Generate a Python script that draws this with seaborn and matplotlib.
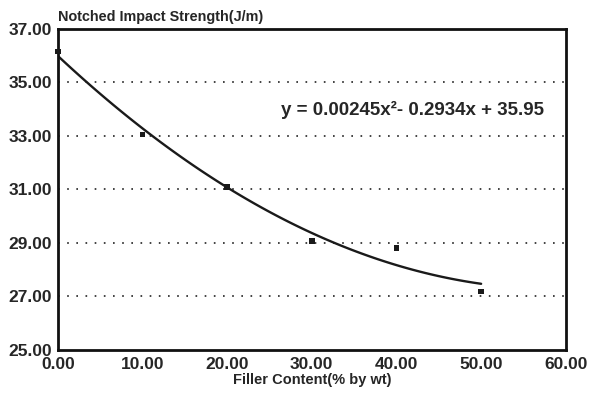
import numpy as np
import pandas as pd
import matplotlib
matplotlib.use("Agg")
import matplotlib.pyplot as plt
import seaborn as sns

# data
filler = [0, 10, 20, 30, 40, 50]
strength = [36.15, 33.05, 31.1, 29.08, 28.8, 27.18]
equation = "y = 0.00245x\u00b2- 0.2934x + 35.95"
x_ticks = [0, 10, 20, 30, 40, 50, 60]
y_ticks = [25, 27, 29, 31, 33, 35, 37]

df = pd.DataFrame({"filler": filler, "strength": strength})

sns.set_style("white")
plt.rcParams["font.family"] = ["Liberation Sans", "DejaVu Sans"]
plt.rcParams["font.weight"] = "bold"

fig = plt.figure(figsize=(5.9, 3.95), dpi=100)
ax = fig.add_axes([0.098, 0.114, 0.861, 0.813])

# second order trend line
sns.regplot(data=df, x="filler", y="strength", order=2, ci=None, scatter=False,
            line_kws={"color": "#1a1a1a", "lw": 1.7}, ax=ax)
pts = sns.scatterplot(data=df, x="filler", y="strength", marker="s", s=16,
                      color="#1a1a1a", edgecolor="none", ax=ax, zorder=4)
for c in ax.collections:
    c.set_clip_on(False)

for yv in y_ticks[1:-1]:
    ax.axhline(yv, color="#222222", lw=1.2, ls=(0, (1, 4.5)), zorder=1)

ax.set_xlim(0, 60)
ax.set_ylim(25, 37)
ax.set_xticks(x_ticks)
ax.set_yticks(y_ticks)
ax.set_xticklabels([f"{v:.2f}" for v in x_ticks], fontsize=12.5, fontweight="bold")
ax.set_yticklabels([f"{v:.2f}" for v in y_ticks], fontsize=12.5, fontweight="bold")
ax.tick_params(axis="x", direction="in", length=4, width=1.2, pad=5)
ax.tick_params(axis="y", direction="in", length=0, pad=4)

for s in ax.spines.values():
    s.set_linewidth(2)
    s.set_color("#111111")

ax.set_xlabel("Filler Content(% by wt)", fontsize=10.5, fontweight="bold", labelpad=1)
ax.set_ylabel("")
ax.text(0, 1.015, "Notched Impact Strength(J/m)", transform=ax.transAxes,
        fontsize=10.4, fontweight="bold", ha="left", va="bottom")
ax.text(26.4, 33.98, equation, fontsize=13.5, fontweight="bold", ha="left", va="center")

fig.savefig("out.png", dpi=100, facecolor="white")
